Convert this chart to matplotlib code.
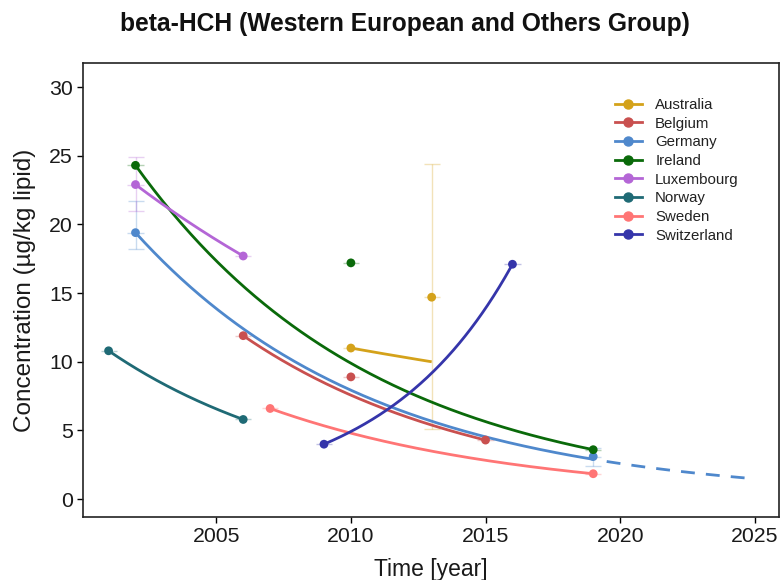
import numpy as np
import matplotlib
matplotlib.use("Agg")
import matplotlib.pyplot as plt
from matplotlib.lines import Line2D

plt.rcParams['font.family'] = ['Liberation Sans', 'DejaVu Sans']

countries = ["Australia", "Belgium", "Germany", "Ireland", "Luxembourg", "Norway", "Sweden", "Switzerland"]
colors = ["#D4A21A", "#C9504F", "#4F88CC", "#0A6A0A", "#B466D6", "#1F6A75", "#FF7575", "#3535AA"]

# observed points (year, concentration)
obs_years = {
    "Australia": [2010, 2013],
    "Belgium": [2006, 2010, 2015],
    "Germany": [2002, 2019],
    "Ireland": [2002, 2010, 2019],
    "Luxembourg": [2002, 2006],
    "Norway": [2001, 2006],
    "Sweden": [2007, 2019],
    "Switzerland": [2009, 2016],
}
obs_values = {
    "Australia": [11.0, 14.7],
    "Belgium": [11.9, 8.9, 4.3],
    "Germany": [19.4, 3.1],
    "Ireland": [24.3, 17.2, 3.6],
    "Luxembourg": [22.9, 17.7],
    "Norway": [10.8, 5.8],
    "Sweden": [6.6, 1.85],
    "Switzerland": [4.0, 17.1],
}
# vertical error ranges (low, high) per point; None = no visible bar
obs_err_low = {
    "Australia": [None, 5.1],
    "Germany": [18.2, 2.4],
    "Luxembourg": [21.0, None],
}
obs_err_high = {
    "Australia": [None, 24.4],
    "Germany": [21.7, 3.7],
    "Luxembourg": [24.9, None],
}

# fitted exponential trend: start year, end year, start value, end value
fit_start_year = {"Australia": 2010, "Belgium": 2006, "Germany": 2002, "Ireland": 2002,
                  "Luxembourg": 2002, "Norway": 2001, "Sweden": 2007, "Switzerland": 2009}
fit_end_year = {"Australia": 2013, "Belgium": 2015, "Germany": 2019, "Ireland": 2019,
                "Luxembourg": 2006, "Norway": 2006, "Sweden": 2019, "Switzerland": 2016}
fit_start_value = {"Australia": 11.0, "Belgium": 11.9, "Germany": 19.4, "Ireland": 24.3,
                   "Luxembourg": 22.9, "Norway": 10.8, "Sweden": 6.6, "Switzerland": 4.0}
fit_end_value = {"Australia": 10.0, "Belgium": 4.3, "Germany": 2.9, "Ireland": 3.6,
                 "Luxembourg": 17.7, "Norway": 5.8, "Sweden": 1.85, "Switzerland": 17.1}
projection_country = "Germany"
projection_end_year = 2025

x_ticks = [2005, 2010, 2015, 2020, 2025]
y_ticks = [0, 5, 10, 15, 20, 25, 30]

fig = plt.figure(figsize=(7.82, 5.8), dpi=100)
ax = fig.add_axes([83/782, 1 - 517/580, (779-83)/782, (517-63)/580])


def exp_curve(y0, y1, v0, v1, xs):
    k = np.log(v1 / v0) / (y1 - y0)
    return v0 * np.exp(k * (xs - y0))


for c, col in zip(countries, colors):
    ys = np.array(obs_years[c], dtype=float)
    vs = np.array(obs_values[c], dtype=float)
    # horizontal whiskers
    ax.errorbar(ys, vs, xerr=0.3, fmt="none", ecolor=col, alpha=0.3, elinewidth=1.0, zorder=2)
    # vertical error bars
    if c in obs_err_low:
        for yr, v, lo, hi in zip(ys, vs, obs_err_low[c], obs_err_high[c]):
            if lo is None:
                continue
            ax.errorbar([yr], [v], yerr=[[v - lo], [hi - v]], fmt="none", ecolor=col,
                        alpha=0.3, elinewidth=1.0, capsize=6, capthick=1.0, zorder=2)
    # fitted curve
    y0, y1 = fit_start_year[c], fit_end_year[c]
    xs = np.linspace(y0, y1, 200)
    ax.plot(xs, exp_curve(y0, y1, fit_start_value[c], fit_end_value[c], xs),
            color=col, lw=2.0, zorder=3, solid_capstyle="butt")
    if c == projection_country:
        xp = np.linspace(y1 + 0.5, projection_end_year, 100)
        ax.plot(xp, exp_curve(y0, y1, fit_start_value[c], fit_end_value[c], xp),
                color=col, lw=2.0, ls=(0, (5, 4)), zorder=3)
    ax.scatter(ys, vs, s=40, color=col, zorder=4, edgecolors="none")

ax.set_xlim(2000.05, 2025.9)
ax.set_ylim(-1.3, 31.75)
ax.set_xticks(x_ticks)
ax.set_yticks(y_ticks)
ax.tick_params(axis="both", labelsize=15.3, length=4, width=1, color="black", labelcolor="#1a1a1a")
for s in ax.spines.values():
    s.set_linewidth(1.2)
    s.set_color("#222222")

ax.set_xlabel("Time [year]", fontsize=16.5, labelpad=8, color="#1a1a1a")
ax.set_ylabel("Concentration (\u00b5g/kg lipid)", fontsize=17.5, labelpad=9, color="#1a1a1a")
fig.text(405/782, 1 - 24/580, "beta-HCH (Western European and Others Group)", fontsize=17.7,
         fontweight="bold", ha="center", va="center", color="#111111")

handles = [Line2D([0], [0], color=col, lw=2, marker="o", markersize=6.5) for col in colors]
leg = ax.legend(handles, countries, loc="upper left", bbox_to_anchor=(0.764, 0.923),
                frameon=False, fontsize=10.8, handlelength=1.8, labelspacing=0.31,
                handletextpad=0.9, borderpad=0, borderaxespad=0)
for t in leg.get_texts():
    t.set_color("#222222")

fig.savefig("out.png", dpi=100)
